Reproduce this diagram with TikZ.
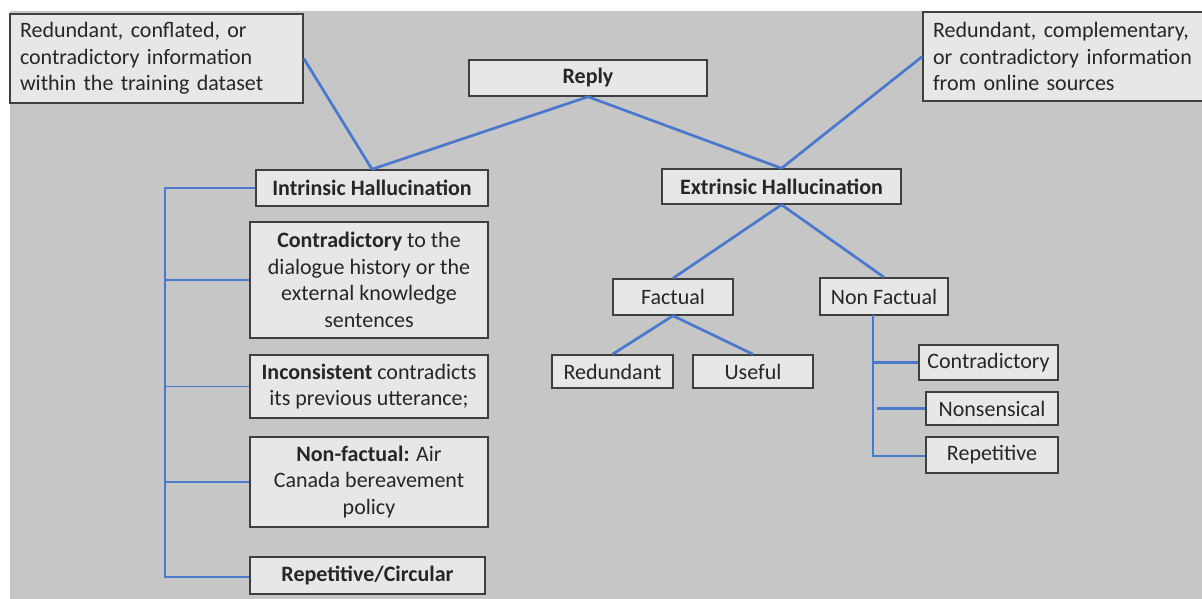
\documentclass[tikz,border=0pt]{standalone}
\usepackage{fontspec}
\setmainfont{Carlito}
\usepackage{xcolor}
\definecolor{bggray}{HTML}{C6C6C6}
\definecolor{boxfill}{HTML}{E7E7E7}
\definecolor{boxline}{HTML}{3F3F3F}
\definecolor{linkblue}{HTML}{4A78CC}
\definecolor{txt}{HTML}{262626}

\tikzset{
    box/.style={draw=boxline, fill=boxfill, line width=1.5pt, inner sep=0pt,
        font=\fontsize{22}{26.5}\selectfont, text=txt, align=center},
    link/.style={draw=linkblue, line width=2.7pt},
    linkthin/.style={draw=linkblue, line width=1.5pt},
}

\begin{document}
\begin{tikzpicture}[x=1pt, y=-1pt]
    \useasboundingbox (0,0) rectangle (1202,599);
    \fill[bggray] (10,11) rectangle (1202,599);
    % Sources
    \node[box, minimum width=293pt, minimum height=89pt, text width=273pt, align=left] (srctrain) at (156.5,58.5)
        {Redundant, conflated, or\\contradictory information\\within the training dataset};
    \node[box, minimum width=281pt, minimum height=89pt, text width=261pt, align=left] (srconline) at (1063.5,56.5)
        {Redundant, complementary,\\or contradictory information\\from online sources};
    % Top levels
    \node[box, minimum width=238pt, minimum height=36pt] (reply) at (588,78) {\textbf{Reply}};
    \node[box, minimum width=232pt, minimum height=36pt] (intr) at (372,188) {\textbf{Intrinsic Hallucination}};
    \node[box, minimum width=239pt, minimum height=35pt] (extr) at (781.5,186.5) {\textbf{Extrinsic Hallucination}};
    % Intrinsic kinds
    \node[box, minimum width=238pt, minimum height=116pt] (contra) at (369,280)
        {\textbf{Contradictory} to the\\dialogue history or the\\external knowledge\\sentences};
    \node[box, minimum width=238pt, minimum height=63pt] (incons) at (369,386.5)
        {\textbf{Inconsistent} contradicts\\its previous utterance;};
    \node[box, minimum width=238pt, minimum height=90pt] (nonfact) at (369,482)
        {\textbf{Non-factual:} Air\\Canada bereavement\\policy};
    \node[box, minimum width=235pt, minimum height=37pt] (repcirc) at (367.5,575.5) {\textbf{Repetitive/Circular}};
    % Extrinsic kinds
    \node[box, minimum width=120pt, minimum height=36pt] (factual) at (673,297) {Factual};
    \node[box, minimum width=128pt, minimum height=37pt] (nonfactual) at (884,296.5) {Non Factual};
    \node[box, minimum width=121pt, minimum height=33pt] (redund) at (612.5,371.5) {Redundant};
    \node[box, minimum width=120pt, minimum height=33pt] (useful) at (753,371.5) {Useful};
    \node[box, minimum width=139pt, minimum height=35pt] (contr) at (988.5,362.5) {Contradictory};
    \node[box, minimum width=132pt, minimum height=33pt] (nonsens) at (992,408.5) {Nonsensical};
    \node[box, minimum width=132pt, minimum height=36pt] (repet) at (992,455) {Repetitive};
    % Tree links
    \draw[link] (reply.south) -- (intr.north);
    \draw[link] (reply.south) -- (extr.north);
    \draw[link] (srctrain.east) -- (intr.north);
    \draw[link] (srconline.west) -- (extr.north);
    \draw[link] (extr.south) -- (factual.north);
    \draw[link] (extr.south) -- (nonfactual.north);
    \draw[link] (factual.south) -- (redund.north);
    \draw[link] (factual.south) -- (useful.north);
    % Left bracket
    \coordinate (ltop) at (165,188);
    \coordinate (lbot) at (165,577);
    \draw[link] (intr.west) -- (ltop) -- (lbot) -- (lbot -| repcirc.west);
    \draw[linkthin] (ltop |- contra.west) -- (contra.west);
    \draw[linkthin] (ltop |- incons.west) -- (incons.west);
    \draw[link] (ltop |- nonfact.west) -- (nonfact.west);
    % Right bracket
    \coordinate (rtop) at (873,315);
    \coordinate (rbot) at (873,456);
    \draw[link] (rtop) -- (rbot) -- (rbot -| repet.west);
    \draw[link] (rtop |- contr.west) -- (contr.west);
    \draw[link] ([xshift=4pt]rtop |- nonsens.west) -- (nonsens.west);
\end{tikzpicture}
\end{document}
